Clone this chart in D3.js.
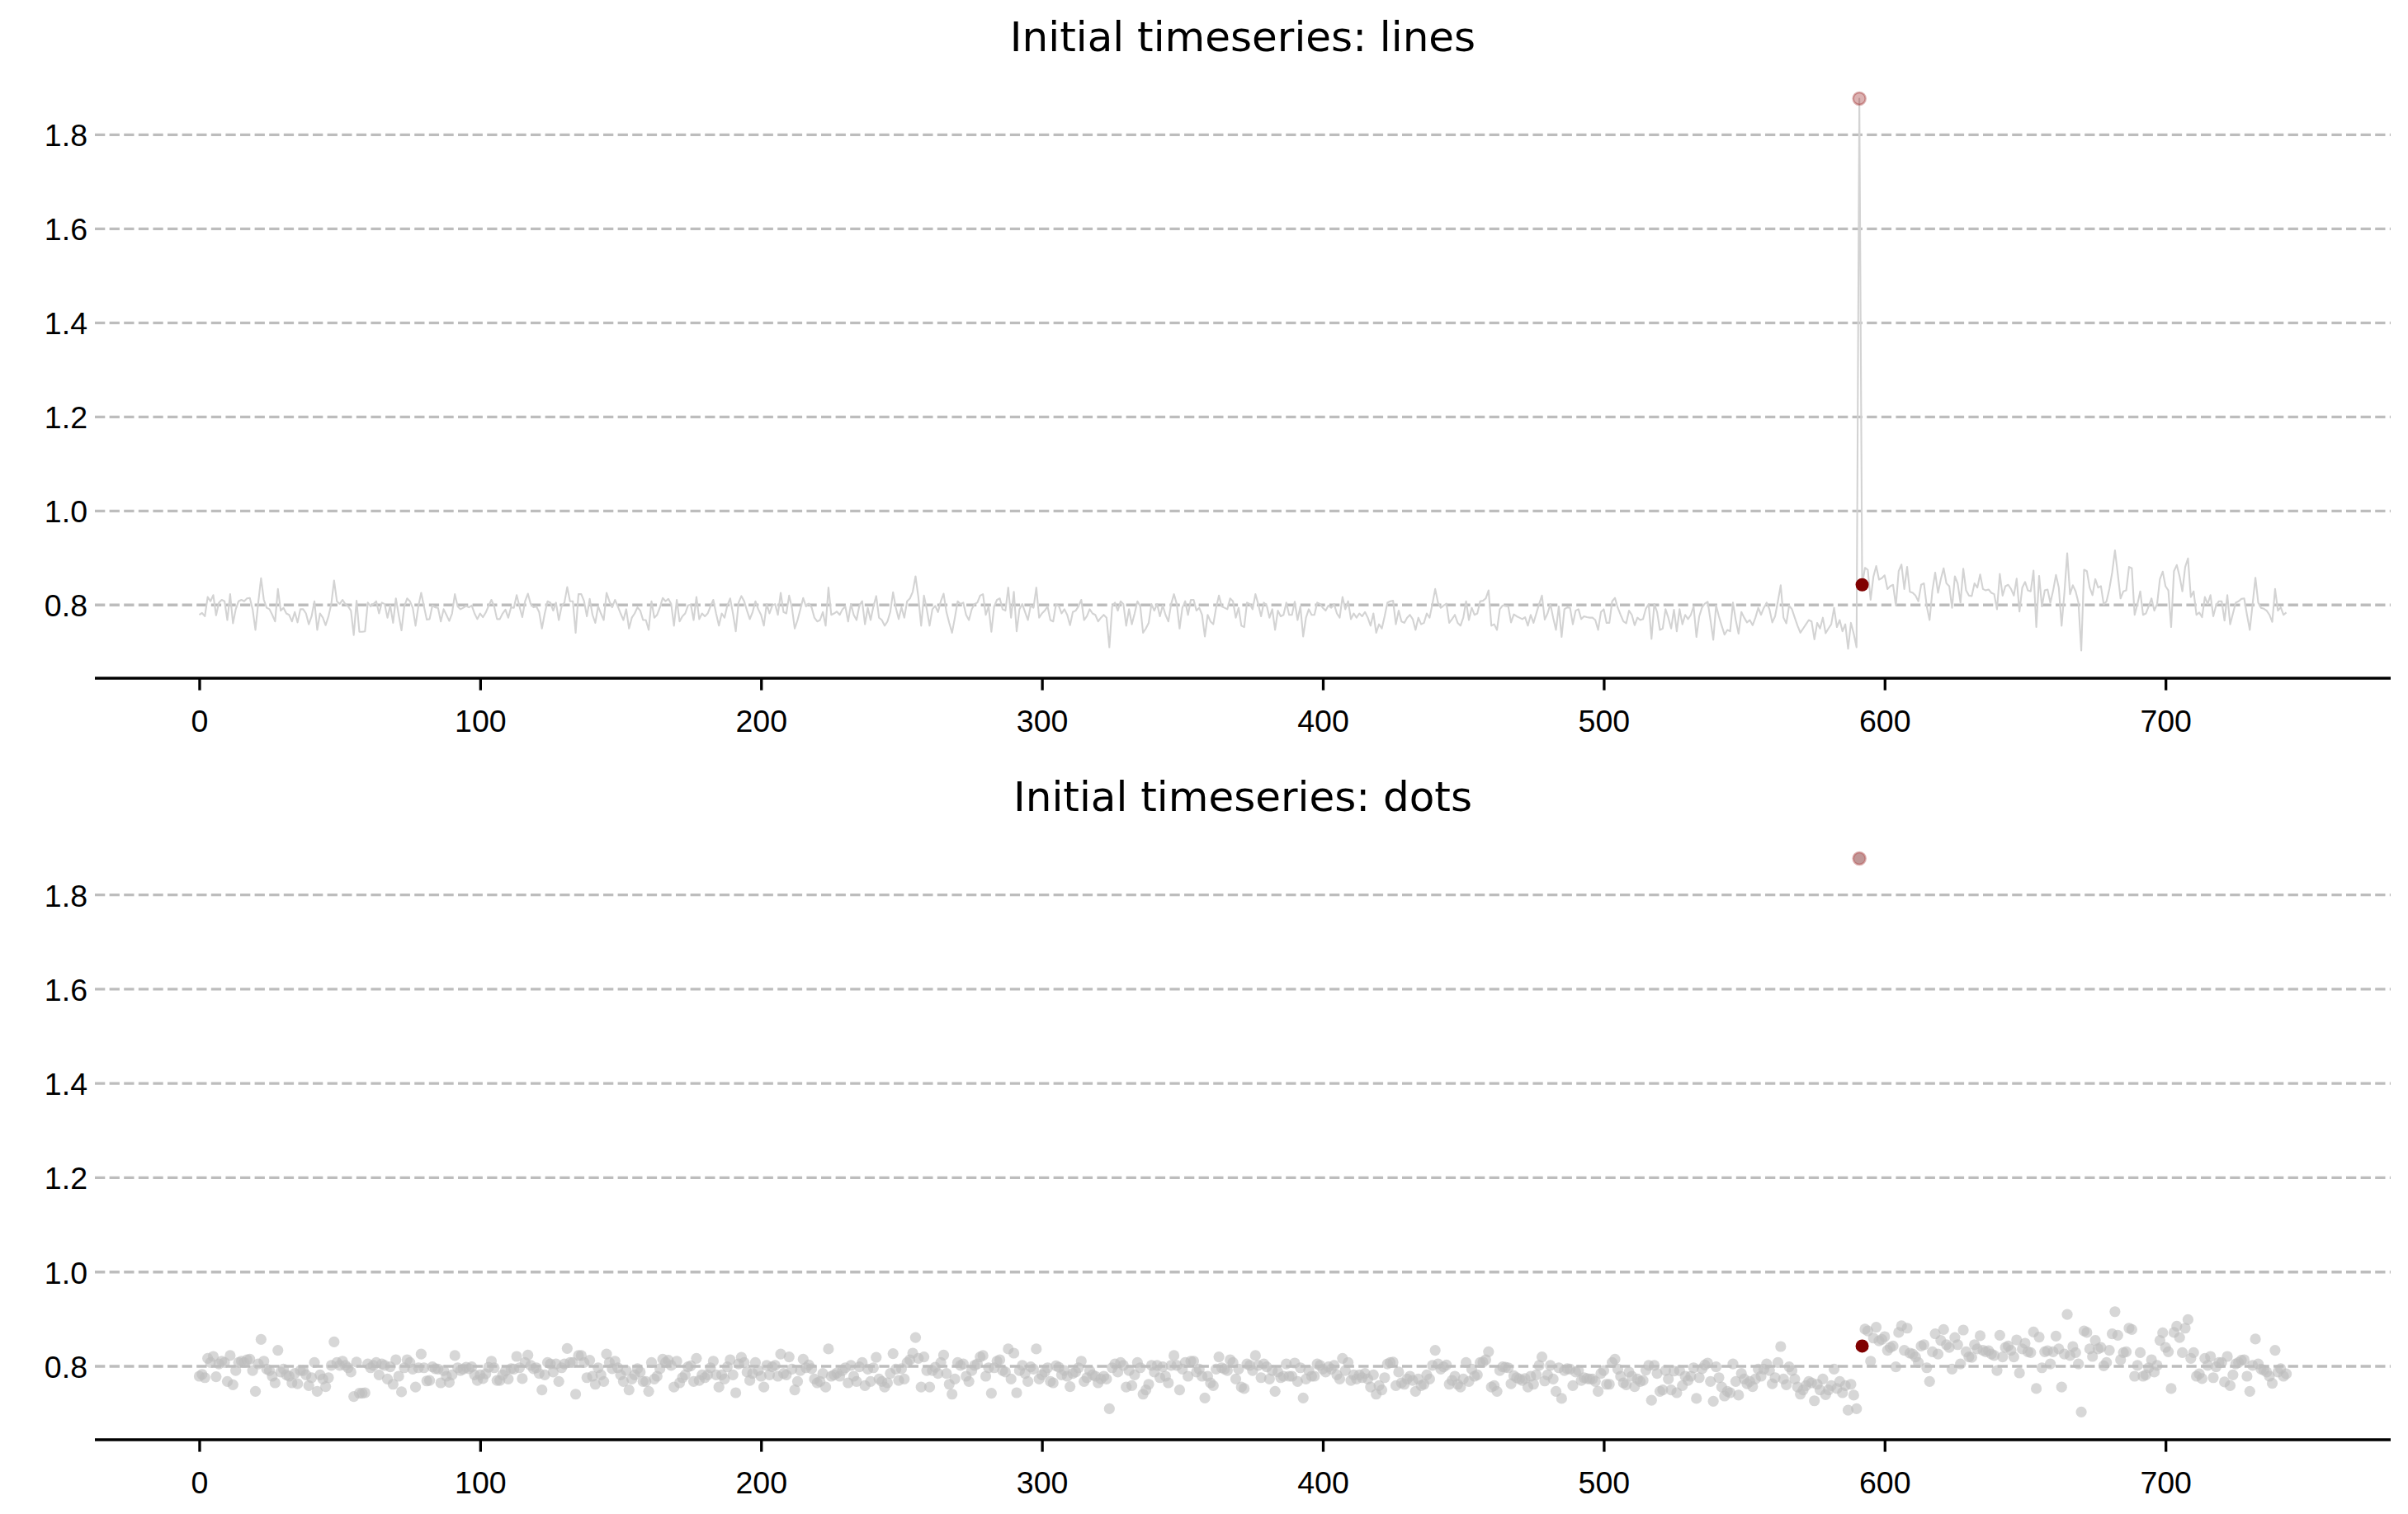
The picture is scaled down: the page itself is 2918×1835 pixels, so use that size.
<!DOCTYPE html>
<html><head><meta charset="utf-8">
<script src="https://cdn.jsdelivr.net/npm/d3@7"></script>
<style>html,body{margin:0;padding:0;background:#fff}svg{display:block}</style>
</head><body>
<script>
// ---- data ----
const titles = ["Initial timeseries: lines", "Initial timeseries: dots"];
const xTicks = [0, 100, 200, 300, 400, 500, 600, 700];
const yTicks = [0.8, 1.0, 1.2, 1.4, 1.6, 1.8];
const outlierIndex = [591];   // raw spike (light red)
const correctedIndex = [592]; // highlighted point (dark red)
const values = [
0.779,0.783,0.776,0.817,0.808,0.821,0.778,0.805,0.811,0.808,
0.768,0.823,0.761,0.791,0.808,0.811,0.808,0.814,0.815,0.791,
0.747,0.805,0.857,0.811,0.794,0.791,0.779,0.765,0.834,0.788,
0.794,0.782,0.779,0.765,0.785,0.763,0.791,0.791,0.782,0.759,
0.776,0.808,0.747,0.782,0.773,0.757,0.776,0.802,0.852,0.808,
0.802,0.811,0.802,0.797,0.788,0.736,0.809,0.743,0.743,0.744,
0.805,0.797,0.802,0.808,0.782,0.805,
0.802,0.773,0.799,0.762,0.814,0.779,0.746,0.797,0.814,0.808,
0.794,0.756,0.797,0.826,0.797,0.769,0.770,0.799,0.795,0.794,
0.765,0.791,0.779,0.766,0.782,0.823,0.797,0.791,0.794,0.798,
0.795,0.799,0.782,0.770,0.782,0.774,0.784,0.798,0.811,0.797,
0.770,0.770,0.782,0.790,0.773,0.795,0.794,0.821,0.797,0.774,
0.808,0.824,0.802,0.795,0.797,0.785,0.750,0.782,0.808,0.805,
0.788,0.805,0.768,0.797,0.805,0.838,0.808,0.808,0.741,0.823,
0.823,0.808,0.776,0.813,0.779,0.762,0.797,0.782,0.768,0.826,
0.808,0.795,0.811,0.797,0.782,0.768,0.791,0.750,0.773,0.782,
0.795,0.788,0.768,0.768,0.747,0.808,0.773,0.779,0.795,0.815,
0.808,0.813,0.802,0.756,0.811,0.765,0.776,0.782,0.799,0.801,
0.768,0.817,0.770,0.782,0.776,0.782,0.797,0.811,0.782,0.756,
0.782,0.773,0.799,0.814,0.782,0.744,0.805,0.819,0.808,0.788,
0.770,0.785,0.808,0.791,0.779,0.756,0.802,0.782,0.799,
0.802,0.779,0.826,0.785,0.782,0.820,0.794,0.750,0.768,0.791,
0.815,0.797,0.803,0.795,0.773,0.765,0.768,0.785,0.756,0.837,
0.779,0.782,0.786,0.779,0.791,0.797,0.765,0.802,0.779,0.768,
0.799,0.808,0.759,0.794,0.768,0.797,0.819,0.773,0.768,0.756,
0.765,0.785,0.827,0.794,0.770,0.795,0.773,0.808,0.814,0.828,
0.861,0.817,0.756,0.820,0.791,0.756,0.791,0.798,0.785,0.808,
0.824,0.785,0.762,0.741,0.773,0.808,0.802,0.805,0.779,
0.768,0.791,0.802,0.805,0.820,0.823,0.779,0.797,0.743,0.797,
0.811,0.814,0.791,0.788,0.837,0.773,0.828,0.744,0.791,0.802,
0.785,0.768,0.799,0.794,0.837,0.773,0.782,0.788,0.797,0.768,
0.765,0.801,0.798,0.782,0.791,0.779,0.757,0.785,0.788,0.797,
0.811,0.768,0.776,0.791,0.782,0.779,0.765,0.773,0.779,0.773,
0.710,0.797,0.805,0.788,0.808,0.802,0.756,0.791,0.759,0.782,
0.808,0.797,0.741,0.750,0.762,0.802,0.788,0.802,0.776,
0.799,0.779,0.765,0.802,0.823,0.802,0.750,0.794,0.808,0.779,
0.811,0.811,0.788,0.794,0.779,0.733,0.779,0.765,0.759,0.794,
0.820,0.797,0.794,0.791,0.814,0.808,0.773,0.794,0.756,0.753,
0.805,0.802,0.791,0.823,0.802,0.776,0.805,0.799,0.773,0.791,
0.747,0.788,0.776,0.779,0.805,0.779,0.779,0.807,0.768,0.797,
0.733,0.773,0.791,0.779,0.779,0.805,0.802,0.794,0.788,0.799,
0.794,0.802,0.782,0.773,0.817,0.791,0.808,0.770,0.782,
0.773,0.782,0.776,0.785,0.773,0.756,0.782,0.741,0.759,0.750,
0.776,0.805,0.808,0.809,0.759,0.788,0.765,0.762,0.773,0.779,
0.770,0.747,0.773,0.759,0.762,0.782,0.773,0.802,0.834,0.805,
0.794,0.799,0.803,0.762,0.770,0.779,0.762,0.756,0.773,0.808,
0.768,0.794,0.779,0.782,0.808,0.809,0.814,0.831,0.756,0.759,
0.747,0.791,0.799,0.798,0.797,0.763,0.780,0.776,0.773,0.770,
0.774,0.756,0.779,0.762,0.782,0.802,0.820,0.769,0.782,
0.802,0.773,0.747,0.797,0.732,0.791,0.795,0.794,0.759,0.788,
0.791,0.770,0.776,0.774,0.773,0.773,0.768,0.747,0.785,0.791,
0.762,0.762,0.808,0.815,0.794,0.779,0.765,0.761,0.788,0.779,
0.757,0.773,0.768,0.770,0.792,0.802,0.728,0.802,0.785,0.747,
0.750,0.791,0.773,0.750,0.790,0.744,0.791,0.759,0.779,0.770,
0.779,0.797,0.732,0.776,0.795,0.803,0.807,0.768,0.726,0.799,
0.776,0.756,0.737,0.747,0.744,0.805,0.768,0.739,0.785,
0.773,0.763,0.768,0.757,0.773,0.794,0.779,0.794,0.805,0.791,
0.763,0.776,0.808,0.842,0.773,0.761,0.799,0.791,0.773,0.756,
0.741,0.750,0.759,0.768,0.765,0.727,0.762,0.750,0.773,0.740,
0.750,0.759,0.794,0.753,0.768,0.744,0.759,0.707,0.762,0.739,
0.710,
1.877,0.843,
0.879,0.875,0.811,0.860,0.883,0.854,0.857,0.863,0.834,0.840,
0.843,0.799,0.872,0.886,0.834,0.881,0.828,0.826,0.820,0.808,
0.843,0.846,0.797,0.768,0.831,0.869,
0.826,0.855,0.878,0.846,0.840,0.794,0.861,0.846,0.805,0.877,
0.831,0.820,0.819,0.846,0.837,0.865,0.834,0.831,0.833,0.826,
0.823,0.791,0.866,0.820,0.840,0.843,0.834,0.820,0.856,0.786,
0.837,0.849,0.831,0.829,0.873,0.753,0.862,0.797,0.831,0.833,
0.805,0.831,0.864,0.837,0.756,0.826,0.910,0.823,0.842,0.829,
0.805,0.703,0.875,0.872,0.837,0.821,0.855,0.837,0.840,0.801,
0.808,0.834,0.869,0.916,0.866,0.814,0.829,0.831,0.881,
0.878,0.779,0.802,0.829,0.779,0.782,0.797,0.814,0.788,0.802,
0.855,0.871,0.840,0.831,0.753,0.872,0.885,0.861,0.829,0.881,
0.899,0.817,0.829,0.779,0.784,0.774,0.817,0.802,0.821,0.776,
0.799,0.808,0.808,0.767,0.821,0.759,0.782,0.805,0.808,0.813,
0.814,0.779,0.747,0.802,0.858,0.805,0.794,0.792,0.788,0.779,
0.764,0.834,0.788,0.795,0.779,0.784
];

// ---- layout ----
const W = 2918, H = 1835;
const FONT = "'DejaVu Sans', sans-serif";
const TICK_FS = 37.5, TITLE_FS = 50;
const TICK_LEN = 14.6, LW = 3.3;
const left = 115, right = 2897;
const panels = [
  {title: titles[0], top: 86, bottom: 822, kind: "line"},
  {title: titles[1], top: 1007, bottom: 1745, kind: "dots"}
];

const svg = d3.select("body").append("svg").attr("width", W).attr("height", H)
  .style("font-family", FONT);

const n = values.length;
const xMargin = (n - 1) * 0.05;
const yMin = d3.min(values), yMax = d3.max(values);
const yMargin = (yMax - yMin) * 0.05;

panels.forEach(p => {
  const x = d3.scaleLinear().domain([-xMargin, n - 1 + xMargin]).range([left, right]);
  const y = d3.scaleLinear().domain([yMin - yMargin, yMax + yMargin]).range([p.bottom, p.top]);
  const g = svg.append("g");

  // grid
  g.append("g").selectAll("line").data(yTicks).join("line")
    .attr("x1", left).attr("x2", right)
    .attr("y1", d => y(d)).attr("y2", d => y(d))
    .attr("stroke", "#bdbdbd").attr("stroke-width", LW)
    .attr("stroke-dasharray", "12.3,5.3");

  const pts = values.map((v, i) => [i, v]);
  if (p.kind === "line") {
    g.append("path").datum(pts)
      .attr("fill", "none").attr("stroke", "#d3d3d3").attr("stroke-width", 2.1)
      .attr("stroke-linejoin", "round")
      .attr("d", d3.line().x(d => x(d[0])).y(d => y(d[1])));
  } else {
    g.append("g").selectAll("circle").data(pts).join("circle")
      .attr("cx", d => x(d[0])).attr("cy", d => y(d[1])).attr("r", 6.6)
      .attr("fill", "#bcbcbc").attr("fill-opacity", 0.6);
  }

  // highlighted points
  g.append("g").selectAll("circle").data(outlierIndex).join("circle")
    .attr("cx", d => x(d)).attr("cy", d => y(values[d])).attr("r", 7.5)
    .attr("fill", "#8b0000").attr("fill-opacity", 0.3)
    .attr("stroke", "#8b0000").attr("stroke-opacity", 0.3).attr("stroke-width", 2.5);
  g.append("g").selectAll("circle").data(correctedIndex).join("circle")
    .attr("cx", d => x(d)).attr("cy", d => y(values[d])).attr("r", 8)
    .attr("fill", "#800000");

  // x axis
  const xa = g.append("g").attr("transform", `translate(0,${p.bottom})`)
    .call(d3.axisBottom(x).tickValues(xTicks).tickSize(TICK_LEN).tickPadding(24).tickSizeOuter(0).tickFormat(d3.format("d")));
  xa.select(".domain").attr("stroke", "#000").attr("stroke-width", LW).attr("d", `M${left},0H${right}`);
  xa.selectAll(".tick line").attr("stroke", "#000").attr("stroke-width", LW);
  xa.selectAll(".tick text").attr("fill", "#000").style("font-size", TICK_FS + "px").attr("dy", "0.71em");

  // y axis (no spine, labels beside the gridlines)
  const ya = g.append("g").attr("transform", `translate(${left},0)`)
    .call(d3.axisLeft(y).tickValues(yTicks).tickSize(0).tickPadding(9).tickFormat(d3.format(".1f")));
  ya.select(".domain").remove();
  ya.selectAll(".tick line").remove();
  ya.selectAll(".tick text").attr("fill", "#000").style("font-size", TICK_FS + "px").attr("dy", "0.36em");

  // title
  g.append("text").attr("x", (left + right) / 2).attr("y", p.top - 24)
    .attr("text-anchor", "middle").style("font-size", TITLE_FS + "px").attr("fill", "#000")
    .text(p.title);
});
</script>
</body></html>
